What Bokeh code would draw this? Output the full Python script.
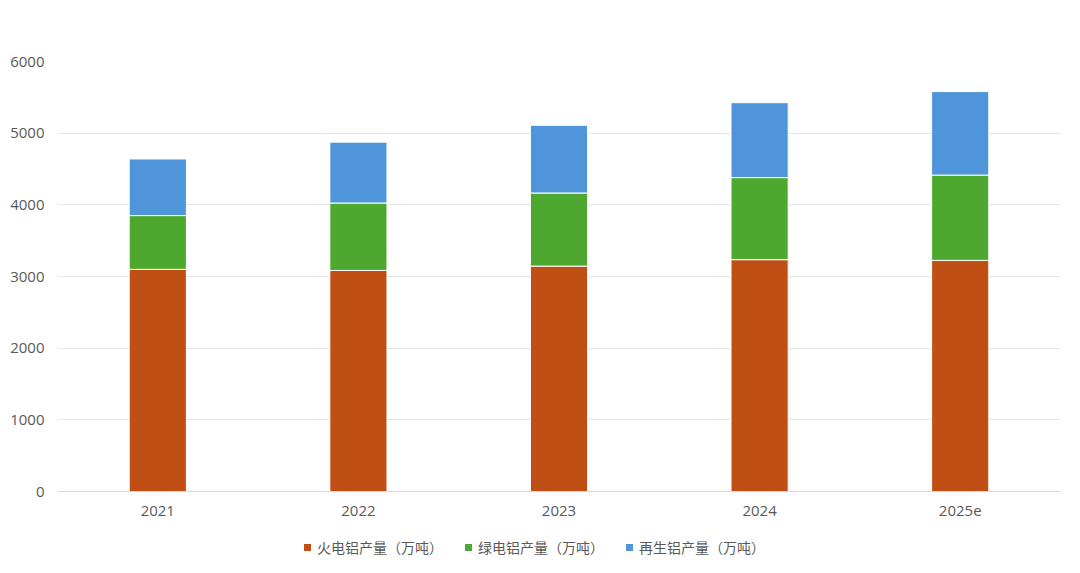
from bokeh.plotting import figure
from bokeh.layouts import column
from bokeh.models import Legend, LegendItem, ColumnDataSource, Range1d
from bokeh.embed import file_html
from bokeh.resources import INLINE

years = ["2021", "2022", "2023", "2024", "2025e"]
thermal = [3100, 3085, 3145, 3235, 3225]
green = [750, 940, 1020, 1145, 1190]
recycled = [790, 850, 945, 1045, 1165]
names = ["火电铝产量（万吨）", "绿电铝产量（万吨）", "再生铝产量（万吨）"]
colors = ["#c04f15", "#4ea72e", "#4e95d9"]
stack_keys = ["thermal", "green", "recycled"]

source = ColumnDataSource(dict(years=years, thermal=thermal, green=green, recycled=recycled))

p = figure(x_range=years, y_range=(0, 6000), width=1064, height=525,
           output_backend="svg", toolbar_location=None,
           min_border_left=57, min_border_right=4, min_border_top=61, min_border_bottom=34)

p.vbar_stack(stack_keys, x="years", width=0.285,
             color=colors, line_color="white", line_width=1, source=source)

p.background_fill_color = "white"
p.border_fill_color = "white"
p.outline_line_color = None

p.xgrid.grid_line_color = None
p.ygrid.grid_line_color = "#e6e6e6"
p.ygrid.grid_line_width = 1

p.yaxis.ticker = [0, 1000, 2000, 3000, 4000, 5000, 6000]
p.yaxis.axis_line_color = None
p.yaxis.major_tick_line_color = None
p.yaxis.minor_tick_line_color = None
p.yaxis.major_label_text_font = "Open Sans"
p.yaxis.major_label_text_font_size = "15px"
p.yaxis.major_label_text_color = "#595959"
p.yaxis.major_label_standoff = 7

p.xaxis.axis_line_color = "#d9d9d9"
p.xaxis.major_tick_line_color = None
p.xaxis.minor_tick_line_color = None
p.xaxis.major_label_text_font = "Open Sans"
p.xaxis.major_label_text_font_size = "15px"
p.xaxis.major_label_text_color = "#595959"
p.xaxis.major_label_standoff = 8

# legend strip below the chart
lg = figure(x_range=years, y_range=Range1d(10000, 10001), width=1064, height=40,
            output_backend="svg", toolbar_location=None,
            x_axis_location=None, y_axis_location=None,
            min_border_left=0, min_border_right=0, min_border_top=0, min_border_bottom=0)
lg.outline_line_color = None
lg.xgrid.grid_line_color = None
lg.ygrid.grid_line_color = None
lg_renderers = lg.vbar_stack(stack_keys, x="years", width=0.285,
                             color=colors, line_color="white", source=source)

items = [LegendItem(label=n, renderers=[r]) for n, r in zip(names, lg_renderers)]
legend = Legend(items=items, orientation="horizontal", location=(245, 8),
                label_text_font="Noto Sans CJK SC", label_text_font_size="14px",
                label_text_color="#595959", glyph_width=10, glyph_height=10,
                label_standoff=5, spacing=20, border_line_color=None,
                background_fill_alpha=0, margin=0, padding=4)
lg.add_layout(legend, "center")

layout = column(p, lg, spacing=0)
open("out.html", "w").write(file_html(layout, INLINE))
